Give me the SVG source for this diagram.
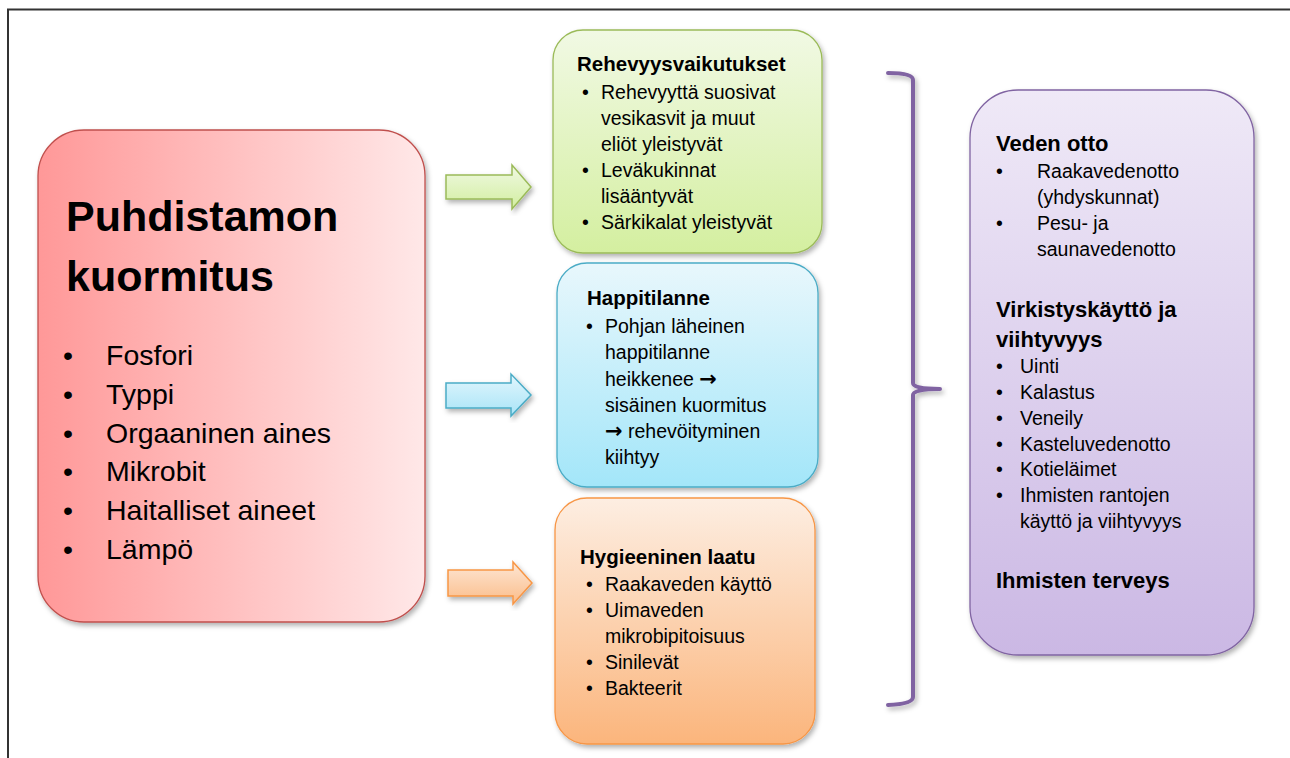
<svg xmlns="http://www.w3.org/2000/svg" width="1290" height="758" viewBox="0 0 1290 758">
  <defs>
    <style>
      text { font-family: "Liberation Sans", Arial, sans-serif; fill: #000; }
      .title { font-size: 43px; font-weight: bold; }
      .big { font-size: 28.5px; }
      .head { font-size: 20.5px; font-weight: bold; }
      .item { font-size: 19.5px; }
      .phead { font-size: 22px; font-weight: bold; }
      .arr { font-family: "Noto Sans", "DejaVu Sans", sans-serif; font-size: 21px; font-weight: bold; }
      .box { stroke-width: 1.3; }
      .arrow { stroke-width: 1.5; }
    </style>
    <filter id="shadow" x="-10%" y="-10%" width="125%" height="125%">
      <feDropShadow dx="2" dy="3" stdDeviation="2.5" flood-color="#000" flood-opacity="0.3"/>
    </filter>
    <linearGradient id="gRed" x1="0" y1="0" x2="1" y2="0">
      <stop offset="0" stop-color="#ff9898"/>
      <stop offset="1" stop-color="#ffe8e8"/>
    </linearGradient>
    <linearGradient id="gGreen" x1="0" y1="0" x2="0" y2="1">
      <stop offset="0" stop-color="#f1f9e4"/>
      <stop offset="1" stop-color="#d4efa0"/>
    </linearGradient>
    <linearGradient id="gBlue" x1="0" y1="0" x2="0" y2="1">
      <stop offset="0" stop-color="#e8f7fc"/>
      <stop offset="1" stop-color="#a3e6f9"/>
    </linearGradient>
    <linearGradient id="gOrange" x1="0" y1="0" x2="0" y2="1">
      <stop offset="0" stop-color="#fdeee2"/>
      <stop offset="1" stop-color="#fbb57c"/>
    </linearGradient>
    <linearGradient id="gPurple" x1="0" y1="0" x2="0" y2="1">
      <stop offset="0" stop-color="#efe9f7"/>
      <stop offset="1" stop-color="#cbb8e4"/>
    </linearGradient>
    <linearGradient id="aGreen" x1="0" y1="0" x2="0" y2="1">
      <stop offset="0" stop-color="#f0f9e2"/>
      <stop offset="1" stop-color="#d2eea0"/>
    </linearGradient>
    <linearGradient id="aBlue" x1="0" y1="0" x2="0" y2="1">
      <stop offset="0" stop-color="#e2f6fd"/>
      <stop offset="1" stop-color="#a8e4f7"/>
    </linearGradient>
    <linearGradient id="aOrange" x1="0" y1="0" x2="0" y2="1">
      <stop offset="0" stop-color="#fde6d4"/>
      <stop offset="1" stop-color="#fbbd8a"/>
    </linearGradient>
  </defs>

  <!-- page frame -->
  <path d="M8,758 V9.5 H1290" fill="none" stroke="#333" stroke-width="2"/>

  <!-- source node -->
  <g id="kuormitus">
    <rect x="38" y="130" width="387" height="492" rx="46" fill="url(#gRed)" stroke="#c0504d" class="box" filter="url(#shadow)"/>
    <text class="title" x="66" y="231">Puhdistamon</text>
    <text class="title" x="66" y="291">kuormitus</text>
    <g class="big">
      <text x="63" y="365">•</text><text x="106" y="365">Fosfori</text>
      <text x="63" y="404">•</text><text x="106" y="404">Typpi</text>
      <text x="63" y="443">•</text><text x="106" y="443">Orgaaninen aines</text>
      <text x="63" y="481">•</text><text x="106" y="481">Mikrobit</text>
      <text x="63" y="520">•</text><text x="106" y="520">Haitalliset aineet</text>
      <text x="63" y="559">•</text><text x="106" y="559">Lämpö</text>
    </g>
  </g>

  <!-- connectors: block arrows and bracket -->
  <g id="connectors">
    <path class="arrow" d="M446,175 H512 V165 L531,187 L512,209 V199 H446 Z" fill="url(#aGreen)" stroke="#9bbb59" filter="url(#shadow)"/>
    <path class="arrow" d="M446,383 H511 V374 L531,395 L511,416 V408 H446 Z" fill="url(#aBlue)" stroke="#4bacc6" filter="url(#shadow)"/>
    <path class="arrow" d="M448,570 H513 V562 L532,583 L513,604 V596 H448 Z" fill="url(#aOrange)" stroke="#f79646" filter="url(#shadow)"/>
    <path d="M888,73 Q913,73 913,80 V383 Q913,389 940,389 Q913,389 913,395 V697 Q913,704 888,705" fill="none" stroke="#8064a2" stroke-width="4" stroke-linecap="round" stroke-linejoin="round" filter="url(#shadow)"/>
  </g>

  <!-- eutrophication effects -->
  <g id="rehevyys">
    <rect x="553" y="30" width="269" height="223" rx="30" fill="url(#gGreen)" stroke="#9bbb59" class="box" filter="url(#shadow)"/>
    <text class="head" x="577" y="71">Rehevyysvaikutukset</text>
    <g class="item">
      <text x="582" y="99">•</text><text x="601" y="99">Rehevyyttä suosivat</text>
      <text x="601" y="125">vesikasvit ja muut</text>
      <text x="601" y="151">eliöt yleistyvät</text>
      <text x="582" y="177">•</text><text x="601" y="177">Leväkukinnat</text>
      <text x="601" y="203">lisääntyvät</text>
      <text x="582" y="229">•</text><text x="601" y="229">Särkikalat yleistyvät</text>
    </g>
  </g>

  <!-- oxygen situation -->
  <g id="happitilanne">
    <rect x="557" y="263" width="261" height="224" rx="30" fill="url(#gBlue)" stroke="#4bacc6" class="box" filter="url(#shadow)"/>
    <text class="head" x="587" y="305">Happitilanne</text>
    <g class="item">
      <text x="586" y="333">•</text><text x="605" y="333">Pohjan läheinen</text>
      <text x="605" y="359">happitilanne</text>
      <text x="605" y="386">heikkenee <tspan class="arr">→</tspan></text>
      <text x="605" y="412">sisäinen kuormitus</text>
      <text x="605" y="438"><tspan class="arr">→</tspan> rehevöityminen</text>
      <text x="605" y="464">kiihtyy</text>
    </g>
  </g>

  <!-- hygienic quality -->
  <g id="hygienia">
    <rect x="555" y="498" width="260" height="246" rx="32" fill="url(#gOrange)" stroke="#f79646" class="box" filter="url(#shadow)"/>
    <text class="head" x="580" y="564">Hygieeninen laatu</text>
    <g class="item">
      <text x="586" y="591">•</text><text x="605" y="591">Raakaveden käyttö</text>
      <text x="586" y="617">•</text><text x="605" y="617">Uimaveden</text>
      <text x="605" y="643">mikrobipitoisuus</text>
      <text x="586" y="669">•</text><text x="605" y="669">Sinilevät</text>
      <text x="586" y="695">•</text><text x="605" y="695">Bakteerit</text>
    </g>
  </g>

  <!-- water uses -->
  <g id="kaytto">
    <rect x="970" y="90" width="284" height="565" rx="48" fill="url(#gPurple)" stroke="#8064a2" class="box" filter="url(#shadow)"/>
    <text class="phead" x="996" y="151">Veden otto</text>
    <g class="item">
      <text x="996" y="178">•</text><text x="1037" y="178">Raakavedenotto</text>
      <text x="1037" y="204">(yhdyskunnat)</text>
      <text x="996" y="230">•</text><text x="1037" y="230">Pesu- ja</text>
      <text x="1037" y="256">saunavedenotto</text>
    </g>
    <text class="phead" x="996" y="317">Virkistyskäyttö ja</text>
    <text class="phead" x="996" y="347">viihtyvyys</text>
    <g class="item">
      <text x="996" y="373">•</text><text x="1020" y="373">Uinti</text>
      <text x="996" y="399">•</text><text x="1020" y="399">Kalastus</text>
      <text x="996" y="425">•</text><text x="1020" y="425">Veneily</text>
      <text x="996" y="451">•</text><text x="1020" y="451">Kasteluvedenotto</text>
      <text x="996" y="476">•</text><text x="1020" y="476">Kotieläimet</text>
      <text x="996" y="502">•</text><text x="1020" y="502">Ihmisten rantojen</text>
      <text x="1020" y="528">käyttö ja viihtyvyys</text>
    </g>
    <text class="phead" x="996" y="588">Ihmisten terveys</text>
  </g>
</svg>
